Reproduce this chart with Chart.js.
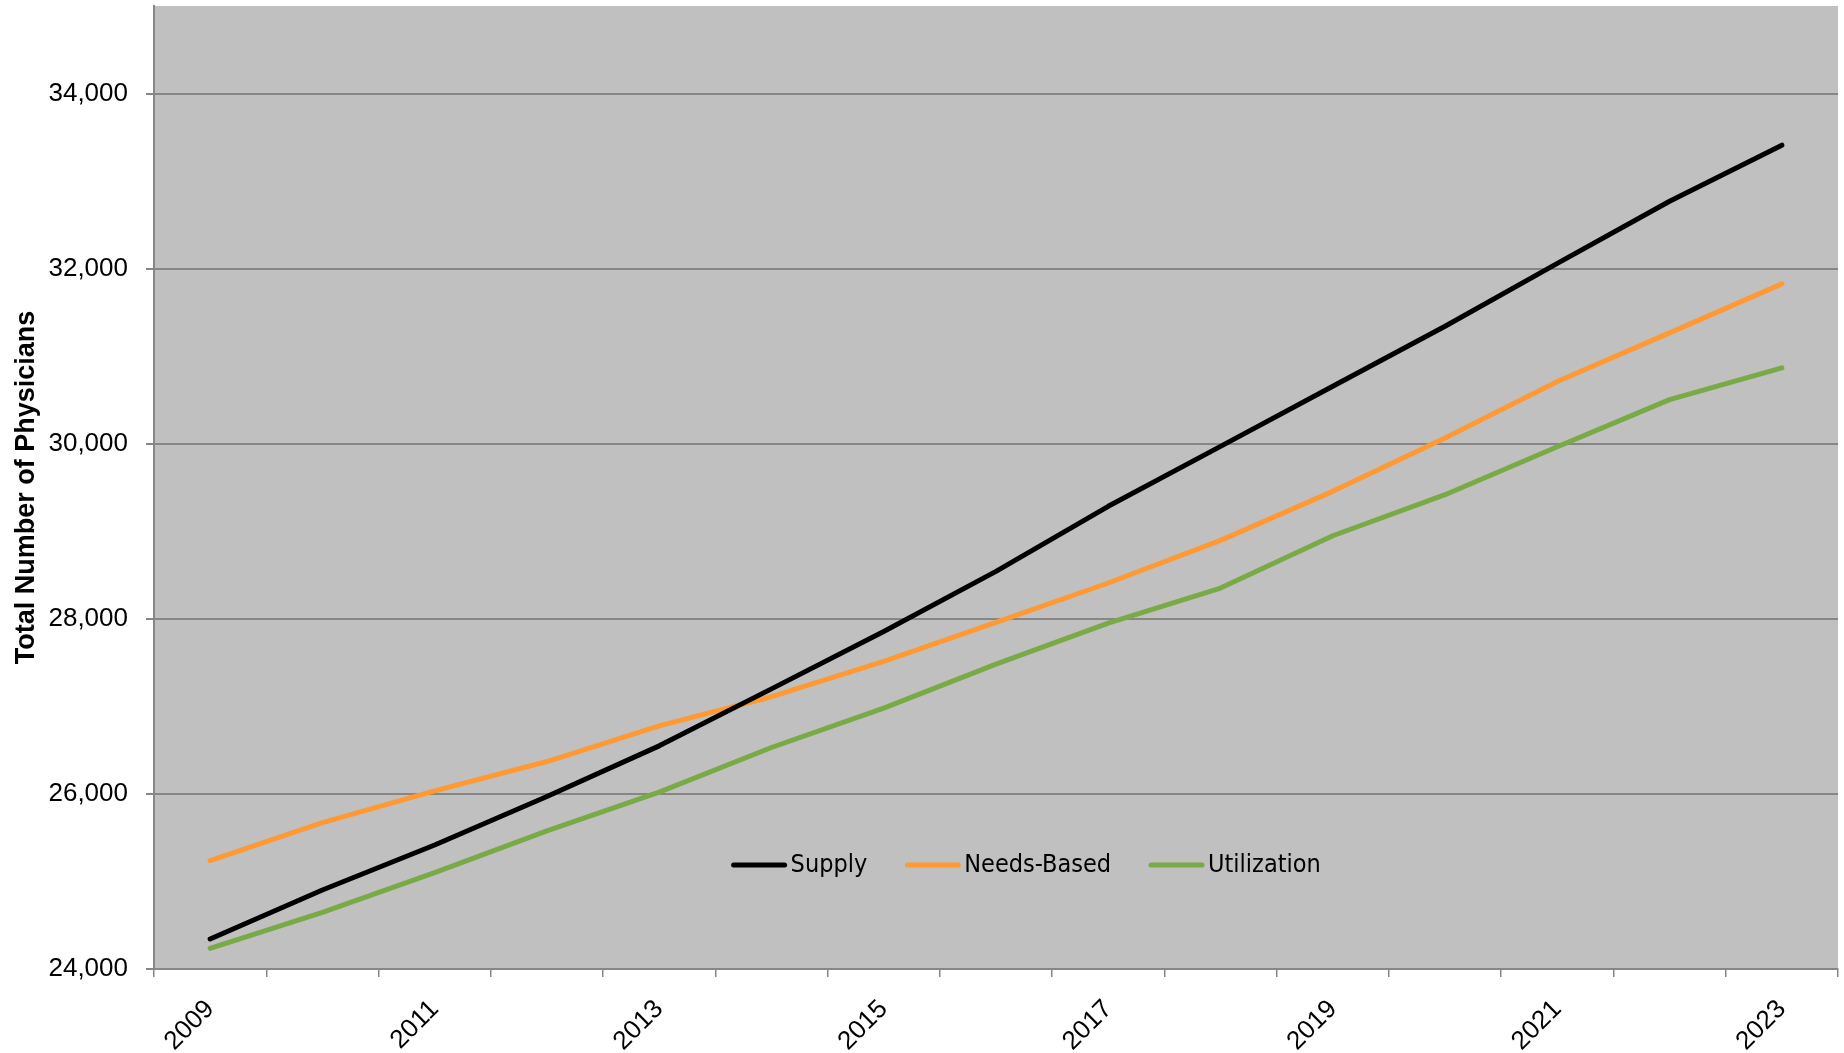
<!DOCTYPE html>
<html>
<head>
<meta charset="utf-8">
<script src="https://cdn.jsdelivr.net/npm/chart.js@4.4.1/dist/chart.umd.min.js"></script>
<style>
  html, body { margin: 0; padding: 0; background: #fff; }
  #wrap { width: 1844px; height: 1053px; position: relative; }
</style>
</head>
<body>
<div id="wrap"><canvas id="physChart"></canvas></div>
<script>
// data //
const years = ['2009','2010','2011','2012','2013','2014','2015','2016','2017','2018','2019','2020','2021','2022','2023'];
const supply = [24343, 24903, 25417, 25970, 26549, 27200, 27856, 28542, 29285, 29970, 30656, 31342, 32060, 32770, 33410];
const needsBased = [25238, 25672, 26035, 26370, 26777, 27110, 27513, 27959, 28409, 28896, 29456, 30066, 30710, 31266, 31826];
const utilization = [24236, 24648, 25101, 25577, 26020, 26530, 26980, 27483, 27951, 28351, 28949, 29418, 29965, 30504, 30866];
const seriesNames = ['Supply', 'Needs-Based', 'Utilization'];
const yTicks = [24000, 26000, 28000, 30000, 32000, 34000];

const gridGray = '#868686';

// grey plot background
const plotBg = {
  id: 'plotBg',
  beforeDraw(chart) {
    const a = chart.chartArea;
    const ctx = chart.ctx;
    ctx.save();
    ctx.fillStyle = '#c0c0c0';
    ctx.fillRect(a.left, a.top, a.right - a.left, a.bottom - a.top);
    ctx.restore();
  }
};

// legend drawn inside the plot, near the bottom
const innerLegend = {
  id: 'innerLegend',
  afterDatasetsDraw(chart) {
    const a = chart.chartArea;
    const ctx = chart.ctx;
    const lineLen = 55, gap = 4, itemGap = 38;
    ctx.save();
    ctx.font = '25px "DejaVu Sans Condensed", sans-serif';
    ctx.textBaseline = 'middle';
    ctx.textAlign = 'left';
    let x = a.left + (a.right - a.left) * 0.343;
    const y = a.top + (a.bottom - a.top) * 0.892;
    chart.data.datasets.forEach(ds => {
      ctx.strokeStyle = ds.borderColor;
      ctx.lineWidth = 5;
      ctx.lineCap = 'round';
      ctx.beginPath();
      ctx.moveTo(x + 2, y);
      ctx.lineTo(x + lineLen - 2, y);
      ctx.stroke();
      ctx.fillStyle = '#000';
      ctx.fillText(ds.label, x + lineLen + gap, y + 1);
      x += lineLen + gap + ctx.measureText(ds.label).width + itemGap;
    });
    ctx.restore();
  }
};

Chart.defaults.font.family = '"Liberation Sans", Arial, sans-serif';
Chart.defaults.color = '#000';

const ctx = document.getElementById('physChart').getContext('2d');
new Chart(ctx, {
  type: 'line',
  data: {
    labels: years,
    datasets: [
      { label: seriesNames[0], data: supply, borderColor: '#000000' },
      { label: seriesNames[1], data: needsBased, borderColor: '#ff9933' },
      { label: seriesNames[2], data: utilization, borderColor: '#79aa45' }
    ]
  },
  options: {
    responsive: true,
    maintainAspectRatio: false,
    animation: false,
    elements: {
      line: { borderWidth: 5, tension: 0, borderCapStyle: 'round', borderJoinStyle: 'round', fill: false },
      point: { radius: 0, hoverRadius: 0 }
    },
    layout: {
      padding: { left: 7, top: 6, right: 6, bottom: 0 }
    },
    plugins: {
      legend: { display: false },
      tooltip: { enabled: false }
    },
    scales: {
      x: {
        offset: true,
        grid: {
          offset: true,
          drawOnChartArea: false,
          drawTicks: true,
          tickLength: 8,
          color: gridGray,
          lineWidth: 1.5
        },
        border: { color: gridGray, width: 2 },
        ticks: {
          autoSkip: false,
          minRotation: 45,
          maxRotation: 45,
          padding: 17,
          font: { size: 26 },
          callback: function(val, index) {
            return index % 2 === 0 ? this.getLabelForValue(val) : '';
          }
        },
        afterFit(scale) {
          scale.paddingLeft = 0;
          scale.paddingRight = 0;
          scale.height = 84;
        }
      },
      y: {
        min: 24000,
        max: 35000,
        bounds: 'data',
        afterBuildTicks(scale) {
          scale.ticks = yTicks.map(v => ({ value: v }));
        },
        grid: {
          color: gridGray,
          lineWidth: 2,
          tickLength: 8
        },
        border: { color: gridGray, width: 2 },
        ticks: {
          padding: 18,
          font: { size: 26 },
          callback: v => v.toLocaleString('en-US')
        },
        title: {
          display: true,
          text: 'Total Number of Physicians',
          font: { size: 27, weight: 'bold' },
          padding: { top: 3, bottom: 10 }
        },
        afterFit(scale) {
          scale.paddingTop = 0;
          scale.paddingBottom = 0;
          scale.width = 147;
        }
      }
    }
  },
  plugins: [plotBg, innerLegend]
});
</script>
</body>
</html>
